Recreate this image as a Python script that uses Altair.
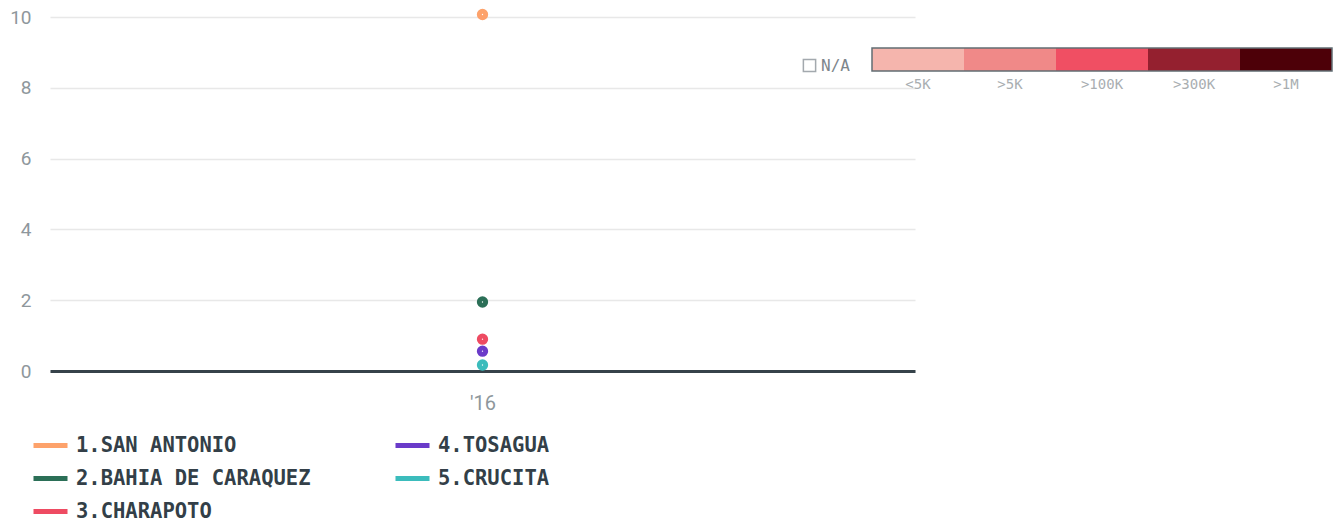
import altair as alt
import pandas as pd

# ---- data ----
series = ["1.SAN ANTONIO", "2.BAHIA DE CARAQUEZ", "3.CHARAPOTO", "4.TOSAGUA", "5.CRUCITA"]
years = ["'16", "'16", "'16", "'16", "'16"]
values = [10.07, 1.95, 0.90, 0.56, 0.17]
series_colors = ["#fda26b", "#2b6f57", "#ee4b62", "#6a3bc9", "#3bbcbc"]

bins = ["<5K", ">5K", ">100K", ">300K", ">1M"]
bin_colors = ["#f5b5ad", "#f08988", "#f04f63", "#94202f", "#4d0008"]

df = pd.DataFrame({"series": series, "year": years, "value": values})
bins_df = pd.DataFrame({"bin": bins})
one = pd.DataFrame({"k": [0]})

AXIS_FONT = "Roboto"
MONO = "DejaVu Sans Mono"

color_scale = alt.Scale(domain=series, range=series_colors)

points = alt.Chart(df).mark_circle(
    fill="white", fillOpacity=1, strokeWidth=5, size=40, opacity=1
).encode(
    x=alt.X("year:N", title=None, scale=alt.Scale(padding=0.5),
            axis=alt.Axis(labelAngle=0, ticks=False, tickSize=0, labelPadding=22,
                          domainColor="#36424a", domainWidth=3,
                          labelFont=AXIS_FONT, labelFontSize=20, labelColor="#8e979c",
                          grid=False)),
    y=alt.Y("value:Q", title=None,
            scale=alt.Scale(domain=[0, 10], nice=False),
            axis=alt.Axis(values=[0, 2, 4, 6, 8, 10], ticks=False, tickSize=0, domain=False,
                          labelPadding=19, labelFont=AXIS_FONT, labelFontSize=19,
                          labelColor="#8e979c", gridColor="#e8e8e8", gridWidth=1.5)),
    stroke=alt.Stroke("series:N", scale=color_scale, sort=series,
                      legend=alt.Legend(title=None, orient="none", legendX=-19, legendY=409,
                                        columns=2, columnPadding=74, rowPadding=3,
                                        symbolType="stroke", symbolStrokeWidth=5,
                                        symbolSize=1156, labelOffset=6,
                                        labelFont=MONO, labelFontSize=20.5,
                                        labelFontWeight="bold", labelColor="#333f48",
                                        labelLimit=400)),
)

cells = alt.Chart(bins_df).mark_rect(strokeWidth=0).encode(
    x=alt.X("bin:N", sort=bins, title=None, axis=None,
            scale=alt.Scale(domain=bins, range=[822, 1282], paddingInner=0, paddingOuter=0)),
    y=alt.value(31),
    y2=alt.value(54),
    fill=alt.Fill("bin:N", scale=alt.Scale(domain=bins, range=bin_colors), legend=None),
)

cell_labels = alt.Chart(bins_df).mark_text(
    font=MONO, fontSize=14, color="#a9aeb1", baseline="middle", align="center"
).encode(
    x=alt.X("bin:N", sort=bins, title=None, axis=None,
            scale=alt.Scale(domain=bins, range=[822, 1282], paddingInner=0, paddingOuter=0)),
    y=alt.value(68),
    text="bin:N",
)

border = alt.Chart(one).mark_rect(fill="transparent", stroke="#626d73", strokeWidth=1.5).encode(
    x=alt.value(822), x2=alt.value(1282), y=alt.value(31), y2=alt.value(54)
)

na_box = alt.Chart(one).mark_point(shape="square", filled=False, size=150,
                                   stroke="#7d868c", strokeWidth=1.5).encode(
    x=alt.value(759.5), y=alt.value(48.5)
)
na_text = alt.Chart(one).mark_text(text="N/A", font=MONO, fontSize=16, color="#7d868c",
                                   align="left", baseline="middle").encode(
    x=alt.value(771), y=alt.value(49)
)

chart = alt.layer(points, cells, cell_labels, border, na_box, na_text).resolve_scale(
    x="independent"
).properties(
    width=865, height=354,
    autosize=alt.AutoSizeParams(type="none"),
    padding={"left": 42, "top": 9, "right": 419, "bottom": 150},
).configure_view(stroke=None)

chart.save("out.html", embed_options={"renderer": "svg", "actions": False})
